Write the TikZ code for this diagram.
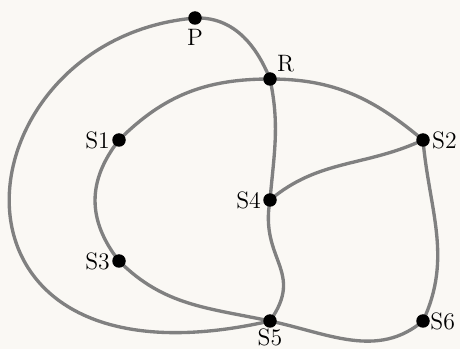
\documentclass[tikz,border=0pt]{standalone}
\usepackage{tikz}
\usetikzlibrary{positioning, calc}
\definecolor{paper}{RGB}{250, 248, 244}
\definecolor{edgegray}{RGB}{128, 128, 128}
\pgfdeclarelayer{bg}
\pgfdeclarelayer{edgelayer}
\pgfsetlayers{bg,edgelayer,main}
\tikzset{
    vertex/.style={circle, fill=black, inner sep=0pt, minimum size=0.27cm},
    edge/.style={draw=edgegray, line width=1.9pt},
    every label/.style={font=\fontsize{13.5}{16}\selectfont, inner sep=1pt}
}

\begin{document}
\begin{tikzpicture}
    % Paper
    \begin{pgfonlayer}{bg}
        \fill[paper] (0,0) rectangle (9.2,6.98);
    \end{pgfonlayer}
    \useasboundingbox (0,0) rectangle (9.2,6.98);

    % Vertices
    \node[vertex, label={[label distance=1pt]below:P}] (P) at (3.9,6.62) {};
    \node[vertex, label={[label distance=0pt]above right:R}] (R) at (5.4,5.40) {};
    \node[vertex, label={[label distance=0pt]left:S1}] (S1) at (2.38,4.18) {};
    \node[vertex, label={[label distance=0pt]right:S2}] (S2) at (8.46,4.18) {};
    \node[vertex, label={[label distance=0pt]left:S4}] (S4) at (5.4,2.98) {};
    \node[vertex, label={[label distance=0pt]left:S3}] (S3) at (2.38,1.76) {};
    \node[vertex, label={[label distance=-1pt]below:S5}] (S5) at (5.4,0.56) {};
    \node[vertex, label={[label distance=-1pt]right:S6}] (S6) at (8.46,0.56) {};

    % Edges
    \begin{pgfonlayer}{edgelayer}
        \draw[edge] (P.center) .. controls (-0.9,6.2) and (-1.7,-1.05) .. (S5.center);
        \draw[edge] (P.center) to[out=2, in=112] (R.center);
        \draw[edge] (R.center) to[out=-78, in=85] (S4.center);
        \draw[edge] (S4.center) to[out=-100, in=55, looseness=1.3] (S5.center);
        \draw[edge] (R.center) to[out=180, in=45] (S1.center);
        \draw[edge] (R.center) to[out=0, in=140] (S2.center);
        \draw[edge] (S1.center) to[out=-128, in=128, looseness=1.1] (S3.center);
        \draw[edge] (S3.center) to[out=-45, in=168] (S5.center);
        \draw[edge] (S5.center) to[out=-12, in=220] (S6.center);
        \draw[edge] (S6.center) to[out=65, in=-85] (S2.center);
        \draw[edge] (S4.center) to[out=40, in=205] (S2.center);
    \end{pgfonlayer}
\end{tikzpicture}
\end{document}
